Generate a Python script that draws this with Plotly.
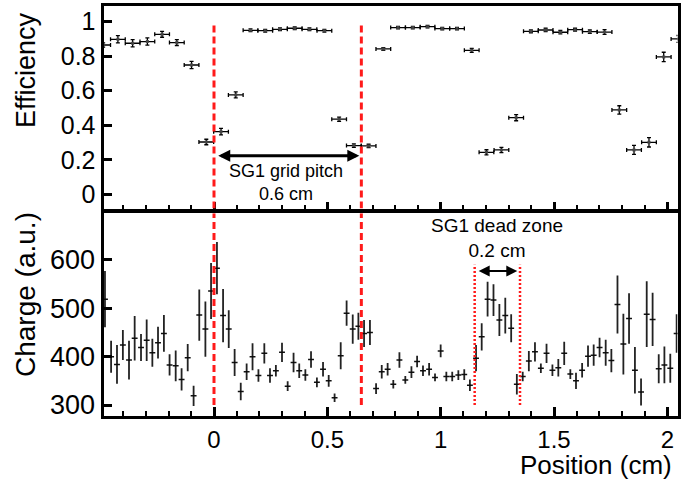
import plotly.graph_objects as go

# ---------------- data ----------------
eff_x = [-0.489, -0.424, -0.359, -0.294, -0.229, -0.164, -0.099, -0.034, 0.031, 0.096,
         0.161, 0.226, 0.291, 0.356, 0.421, 0.487, 0.552, 0.617, 0.682, 0.747,
         0.812, 0.877, 0.942, 1.007, 1.072, 1.137, 1.202, 1.268, 1.333, 1.398,
         1.463, 1.528, 1.593, 1.658, 1.723, 1.788, 1.853, 1.919, 1.984, 2.049]
eff_y = [0.865, 0.898, 0.875, 0.885, 0.927, 0.879, 0.749, 0.303, 0.363, 0.576,
         0.950, 0.948, 0.956, 0.962, 0.956, 0.948, 0.435, 0.282, 0.280, 0.842,
         0.966, 0.966, 0.971, 0.960, 0.960, 0.834, 0.243, 0.257, 0.444, 0.944,
         0.952, 0.939, 0.954, 0.942, 0.940, 0.489, 0.257, 0.301, 0.796, 0.900]
eff_err = [0.012, 0.021, 0.021, 0.021, 0.017, 0.017, 0.021, 0.016, 0.019, 0.017,
           0.008, 0.008, 0.008, 0.008, 0.008, 0.008, 0.012, 0.010, 0.010, 0.008,
           0.007, 0.007, 0.007, 0.007, 0.007, 0.012, 0.015, 0.015, 0.018, 0.008,
           0.010, 0.010, 0.008, 0.010, 0.014, 0.024, 0.026, 0.027, 0.027, 0.020]
eff_halfbin = 0.0325

chg_x = [-0.481, -0.454, -0.428, -0.402, -0.375, -0.350, -0.322, -0.297, -0.272, -0.247,
         -0.221, -0.196, -0.169, -0.143, -0.116, -0.090, -0.065, -0.038, -0.013, 0.013,
         0.040, 0.065, 0.091, 0.118, 0.144, 0.170, 0.196, 0.222, 0.247, 0.273,
         0.300, 0.325, 0.351, 0.376, 0.403, 0.428, 0.454, 0.481, 0.506, 0.532,
         0.559, 0.585, 0.612, 0.637, 0.662, 0.688, 0.715, 0.740, 0.766, 0.791,
         0.818, 0.844, 0.871, 0.896, 0.922, 0.949, 0.975, 1.000, 1.025, 1.051,
         1.078, 1.104, 1.129, 1.156, 1.181, 1.207, 1.233, 1.259, 1.285, 1.311,
         1.336, 1.362, 1.389, 1.416, 1.442, 1.467, 1.493, 1.519, 1.545, 1.572,
         1.597, 1.624, 1.650, 1.675, 1.701, 1.728, 1.753, 1.780, 1.806, 1.831,
         1.857, 1.884, 1.909, 1.935, 1.962, 1.987, 2.013, 2.041]
chg_y = [519, 400, 384, 424, 393, 438, 419, 434, 408, 429,
         448, 383, 381, 353, 398, 319, 486, 457, 536, 583,
         485, 457, 388, 328, 369, 400, 361, 407, 361, 371,
         409, 339, 388, 371, 362, 394, 347, 374, 350, 315,
         402, 490, 457, 463, 448, 450, 334, 369, 374, 343,
         393, 352, 368, 390, 371, 374, 357, 412, 359, 359,
         362, 363, 341, 397, 441, 519, 517, 476, 485, 459,
         343, 359, 391, 410, 376, 407, 372, 377, 407, 364,
         350, 372, 401, 403, 419, 408, 392, 508, 426, 479,
         372, 327, 488, 477, 375, 383, 376, 448]
chg_err = [58, 33, 40, 31, 40, 46, 28, 43, 29, 33,
           38, 22, 32, 23, 28, 21, 53, 57, 58, 54,
           55, 39, 28, 18, 17, 28, 13, 21, 15, 12,
           20, 10, 20, 15, 12, 17, 10, 15, 12, 9,
           28, 26, 30, 28, 28, 26, 11, 14, 13, 9,
           16, 8, 12, 12, 11, 13, 8, 13, 10, 10,
           10, 11, 12, 27, 28, 36, 33, 33, 37, 29,
           21, 10, 21, 20, 10, 20, 12, 18, 24, 10,
           17, 15, 22, 22, 20, 27, 24, 60, 63, 52,
           48, 28, 68, 55, 30, 38, 30, 40]
chg_halfbin = 0.013

grid_lines = [0.0, 0.65]
dead_lines = [1.15, 1.35]
pitch_arrow = [0.012, 0.641]
pitch_arrow_y = 0.224
dead_arrow = [1.161, 1.338]
dead_arrow_y = 577

X_RANGE = [-0.4875, 2.0448]
EFF_RANGE = [-0.0823, 1.0898]
CHG_RANGE = [277.7, 696.8]

FONT = "Liberation Sans, Arial, Helvetica, sans-serif"

fig = go.Figure()

fig.add_trace(go.Scatter(
    x=eff_x, y=eff_y, mode="markers", xaxis="x2", yaxis="y2",
    marker=dict(symbol="square", size=3, color="#444"),
    error_x=dict(type="constant", value=eff_halfbin, color="black", thickness=1.3, width=2),
    error_y=dict(type="data", array=eff_err, color="black", thickness=1.3, width=2),
    showlegend=False,
))

fig.add_trace(go.Scatter(
    x=chg_x, y=chg_y, mode="markers", xaxis="x", yaxis="y",
    marker=dict(size=1, color="black"),
    error_x=dict(type="constant", value=chg_halfbin, color="#111", thickness=1.5, width=0),
    error_y=dict(type="data", array=chg_err, color="#222", thickness=1.8, width=0),
    showlegend=False,
))

shapes = []
for gx in grid_lines:
    shapes.append(dict(type="line", xref="x2", yref="y2", x0=gx, x1=gx, y0=EFF_RANGE[0], y1=1.0,
                       line=dict(color="#ff1a1a", width=3, dash="7px,4px")))
    shapes.append(dict(type="line", xref="x", yref="y", x0=gx, x1=gx, y0=300, y1=CHG_RANGE[1],
                       line=dict(color="#ff1a1a", width=3, dash="7px,4px")))
for dx in dead_lines:
    shapes.append(dict(type="line", xref="x", yref="y", x0=dx, x1=dx, y0=300, y1=590,
                       line=dict(color="#ff1a1a", width=2.5, dash="2px,2px")))

annotations = [
    dict(x=pitch_arrow[1], y=pitch_arrow_y, ax=pitch_arrow[0], ay=pitch_arrow_y,
         xref="x2", yref="y2", axref="x2", ayref="y2", text="", showarrow=True,
         arrowhead=2, arrowside="end+start", arrowwidth=3, arrowsize=0.8, arrowcolor="black"),
    dict(x=0.317, y=0.066, xref="x2", yref="y2", text="SG1 grid pitch<br>0.6 cm",
         showarrow=False, font=dict(family=FONT, size=18, color="black"), align="center",
         xanchor="center", yanchor="middle"),
    dict(x=dead_arrow[1], y=dead_arrow_y, ax=dead_arrow[0], ay=dead_arrow_y,
         xref="x", yref="y", axref="x", ayref="y", text="", showarrow=True,
         arrowhead=2, arrowside="end+start", arrowwidth=2, arrowsize=1.1, arrowcolor="black"),
    dict(x=1.247, y=646, xref="x", yref="y", text="SG1 dead zone<br>0.2 cm",
         showarrow=False, font=dict(family=FONT, size=19, color="black"), align="center",
         xanchor="center", yanchor="middle"),
    dict(x=26 / 681, y=1 - 70 / 481, xref="paper", yref="paper", text="Efficiency",
         textangle=-90, showarrow=False, font=dict(family=FONT, size=27, color="black"),
         xanchor="center", yanchor="middle"),
    dict(x=25 / 681, y=1 - 295 / 481, xref="paper", yref="paper", text="Charge (a.u.)",
         textangle=-90, showarrow=False, font=dict(family=FONT, size=28, color="black"),
         xanchor="center", yanchor="middle"),
    dict(x=673 / 681, y=1 - 465 / 481, xref="paper", yref="paper", text="Position (cm)",
         showarrow=False, font=dict(family=FONT, size=26, color="black"),
         xanchor="right", yanchor="middle", borderpad=0),
]

XDOM = [103.5 / 681, 677.5 / 681]
TOPDOM = [1 - 208.5 / 481, 1 - 6.2 / 481]
BOTDOM = [1 - 415.8 / 481, 1 - 213.2 / 481]

axis_common = dict(showline=True, linecolor="black", linewidth=3, mirror=True,
                   showgrid=False, zeroline=False, ticks="inside", tickcolor="black")

fig.update_layout(
    width=681, height=481, margin=dict(l=0, r=0, t=0, b=0),
    paper_bgcolor="white", plot_bgcolor="white", showlegend=False,
    font=dict(family=FONT, color="black"),
    shapes=shapes, annotations=annotations,
    xaxis=dict(domain=XDOM, anchor="y", range=X_RANGE, tick0=0, dtick=0.5, ticklen=9, tickwidth=3,
               tickfont=dict(size=24), automargin=False,
               minor=dict(dtick=0.1, tick0=0, ticks="inside", ticklen=5, tickwidth=2, tickcolor="black"),
               **axis_common),
    yaxis=dict(domain=BOTDOM, anchor="x", range=CHG_RANGE, tick0=0, dtick=100, ticklen=8, tickwidth=3,
               tickfont=dict(size=27), automargin=False, **axis_common),
    xaxis2=dict(domain=XDOM, anchor="y2", range=X_RANGE, matches="x", tick0=0, dtick=0.5, ticklen=7,
                tickwidth=3, showticklabels=False, automargin=False,
                minor=dict(dtick=0.1, tick0=0, ticks="inside", ticklen=4, tickwidth=2, tickcolor="black"),
                **axis_common),
    yaxis2=dict(domain=TOPDOM, anchor="x2", range=EFF_RANGE, tick0=0, dtick=0.2, ticklen=8, tickwidth=3,
                tickfont=dict(size=25), automargin=False, **axis_common),
)

fig.write_html("out.html", config={"displayModeBar": False},
               post_script="document.body.style.margin='0';")
